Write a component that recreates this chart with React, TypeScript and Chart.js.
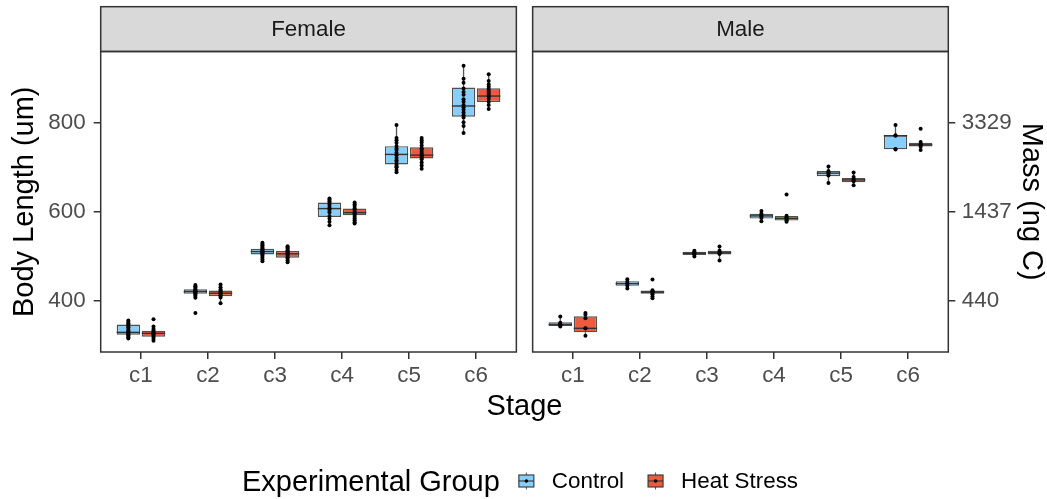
import React, { useEffect, useRef } from 'react';
import { Chart, registerables } from 'chart.js';

Chart.register(...registerables);

// ---------- data ----------
const STAGES = ['c1', 'c2', 'c3', 'c4', 'c5', 'c6'];
const PANELS = ['Female', 'Male'];
const GROUPS = ['Control', 'Heat Stress'];
const Y_TICKS = [400, 600, 800];
const MASS_TICK_LABELS = ['440', '1437', '3329'];

// box stats per stage: [lower whisker, q1, median, q3, upper whisker]
const FEMALE_CONTROL_BOX = [
  [315, 323.4, 328.6, 346, 355],
  [406, 415, 420, 425.4, 435],
  [488, 503.5, 510, 516.3, 530],
  [569, 587.5, 606.4, 620, 629],
  [688, 705.4, 728, 746.6, 794],
  [776, 812.6, 836.7, 878, 927],
];
const FEMALE_HEAT_BOX = [
  [310, 319, 326.4, 332.4, 342],
  [394, 409.7, 416.4, 422.5, 436],
  [486, 496, 505, 511, 522],
  [573, 591.3, 597.4, 606.4, 620],
  [696, 719, 726.4, 744, 765],
  [830, 845.7, 859, 876.5, 908],
];
const MALE_CONTROL_BOX = [
  [342, 343, 346, 351, 364],
  [427, 433, 438, 443.4, 448],
  [499, 502, 506, 509.6, 511.5],
  [578, 584, 590, 595, 601],
  [664, 679, 686, 691, 701],
  [739, 739.5, 770, 771, 794],
];
const MALE_HEAT_BOX = [
  [321, 328.6, 337.6, 364.6, 372],
  [405, 415, 418.7, 422.5, 423],
  [490, 503.5, 507.3, 511.8, 521.5],
  [577, 579.4, 584.5, 590, 590.6],
  [658.8, 665.6, 670.8, 675.3, 687.4],
  [737.7, 746, 749.6, 754, 755.7],
];

// individual observations per stage
const FEMALE_CONTROL_POINTS = [
  [355, 352, 349, 346, 343, 340, 336, 333, 330, 328, 326, 324, 322, 319, 317, 315],
  [435, 432, 429, 426, 424, 422, 421, 420, 419, 417, 415, 413, 410, 406, 372],
  [530, 527, 524, 521, 518, 516, 514, 512, 510, 509, 507, 505, 503, 500, 496, 492, 488],
  [629, 626, 623, 619, 615, 610, 606, 603, 598, 590, 584, 577, 569],
  [794, 765, 760, 754, 747, 741, 738, 732, 726, 720, 715, 711, 705, 701, 699, 693, 688],
  [927, 898, 889, 876, 868, 862, 852, 846, 839, 834, 828, 822, 816, 811, 800, 792, 776],
];
const FEMALE_HEAT_POINTS = [
  [358, 342, 336, 333, 329, 326, 324, 321, 318, 314, 310],
  [436, 430, 425, 422, 419, 417, 415, 412, 410, 407, 394],
  [522, 519, 516, 513, 511, 509, 507, 505, 503, 500, 497, 494, 490, 486],
  [620, 616, 612, 607, 603, 599, 596, 592, 588, 584, 580, 576, 573],
  [765, 760, 755, 748, 742, 739, 734, 730, 726, 723, 720, 717, 710, 703, 696],
  [908, 893, 885, 880, 875, 870, 866, 862, 858, 853, 846, 839, 830],
];
const MALE_CONTROL_POINTS = [
  [364, 350, 347, 346, 344, 342],
  [448, 442, 438, 434, 427],
  [511.5, 509, 507, 505, 503, 499],
  [601, 595, 592, 589, 585, 578],
  [701, 690.5, 688, 684, 680.7, 664],
  [794, 771, 770, 740, 739],
];
const MALE_HEAT_POINTS = [
  [372, 368, 360, 338, 337, 321],
  [447, 423, 421, 419, 417, 414, 409, 405],
  [521.5, 512, 508, 506, 504.5, 490],
  [638, 590.6, 587, 585, 583, 580, 577],
  [687.4, 677.4, 672.6, 670, 668, 658.8],
  [785.6, 755.7, 751, 750, 745, 737.7],
];

// ---------- layout & style constants ----------
const W = 1047;
const H = 499;
const FAMILY = '"Liberation Sans", Arial, Helvetica, sans-serif';
const SMALL = 22.4;
const BIG = 29;
const PANEL_GAP = 0.243; // gap between facets, in category units
const PANEL_EXPAND = 0.6;
const PANEL_SPAN = STAGES.length - 1 + 2 * PANEL_EXPAND;
const X_MIN = 1 - PANEL_EXPAND;
const X_MAX = X_MIN + 2 * PANEL_SPAN + PANEL_GAP;
const Y_MIN = 284.5;
const Y_MAX = 959;
const DODGE = 0.75 / 4;
const STRIP_TOP = 6.7;
const CONTROL_FILL = '#87CEFA';
const HEAT_FILL = '#EE5A3E';
const LINE_DARK = '#333333';

const catPos = (panel: number, i: number) => 1 + i + panel * (PANEL_SPAN + PANEL_GAP);
const panelStart = (panel: number) => X_MIN + panel * (PANEL_SPAN + PANEL_GAP);

const X_TICK_POSITIONS = PANELS.flatMap((_, p) => STAGES.map((_, i) => catPos(p, i)));

function boxData(perPanel: number[][][]) {
  return perPanel.flatMap((panelBoxes, p) =>
    panelBoxes.map((b, i) => ({ x: catPos(p, i), y: [b[1], b[3]] }))
  );
}
function boxStats(perPanel: number[][][]) {
  return perPanel.flatMap((panelBoxes) => panelBoxes);
}
function pointData(perPanel: number[][][], offset: number) {
  return perPanel.flatMap((panelPts, p) =>
    panelPts.flatMap((vals, i) => vals.map((v) => ({ x: catPos(p, i) + offset, y: v })))
  );
}

const facetPlugin = {
  id: 'facetPlugin',
  beforeDraw(chart: any) {
    const { ctx, chartArea, scales } = chart;
    ctx.save();
    ctx.fillStyle = '#ffffff';
    ctx.fillRect(0, 0, W, H);
    PANELS.forEach((name, p) => {
      const x0 = scales.x.getPixelForValue(panelStart(p));
      const x1 = scales.x.getPixelForValue(panelStart(p) + PANEL_SPAN);
      const h = chartArea.top - STRIP_TOP;
      ctx.fillStyle = '#D9D9D9';
      ctx.fillRect(x0, STRIP_TOP, x1 - x0, h);
      ctx.lineWidth = 1.5;
      ctx.strokeStyle = LINE_DARK;
      ctx.strokeRect(x0, STRIP_TOP, x1 - x0, h);
      ctx.fillStyle = '#1A1A1A';
      ctx.font = `${SMALL}px ${FAMILY}`;
      ctx.textAlign = 'center';
      ctx.textBaseline = 'middle';
      ctx.fillText(name, (x0 + x1) / 2, STRIP_TOP + h / 2 + 1);
    });
    ctx.restore();
  },
  beforeDatasetsDraw(chart: any) {
    const { ctx, scales } = chart;
    ctx.save();
    ctx.strokeStyle = '#555555';
    ctx.lineWidth = 1.3;
    chart.data.datasets.forEach((ds: any, di: number) => {
      if (!ds.boxStats) return;
      const meta = chart.getDatasetMeta(di);
      meta.data.forEach((el: any, i: number) => {
        const s = ds.boxStats[i];
        const x = el.x;
        ctx.beginPath();
        ctx.moveTo(x, scales.y.getPixelForValue(s[4]));
        ctx.lineTo(x, scales.y.getPixelForValue(s[3]));
        ctx.moveTo(x, scales.y.getPixelForValue(s[1]));
        ctx.lineTo(x, scales.y.getPixelForValue(s[0]));
        ctx.stroke();
      });
    });
    ctx.restore();
  },
  afterDatasetDraw(chart: any, args: any) {
    const ds = chart.data.datasets[args.index];
    if (!ds.boxStats) return;
    const { ctx, scales } = chart;
    ctx.save();
    ctx.strokeStyle = LINE_DARK;
    ctx.lineWidth = 1.4;
    args.meta.data.forEach((el: any, i: number) => {
      const y = scales.y.getPixelForValue(ds.boxStats[i][2]);
      ctx.beginPath();
      ctx.moveTo(el.x - el.width / 2, y);
      ctx.lineTo(el.x + el.width / 2, y);
      ctx.stroke();
    });
    ctx.restore();
  },
  afterDraw(chart: any) {
    const { ctx, chartArea, scales } = chart;
    ctx.save();
    ctx.lineWidth = 1.5;
    ctx.strokeStyle = LINE_DARK;
    PANELS.forEach((_, p) => {
      const x0 = scales.x.getPixelForValue(panelStart(p));
      const x1 = scales.x.getPixelForValue(panelStart(p) + PANEL_SPAN);
      ctx.strokeRect(x0, chartArea.top, x1 - x0, chartArea.bottom - chartArea.top);
    });

    // legend
    const cy = 481;
    const title = 'Experimental Group';
    ctx.font = `${BIG}px ${FAMILY}`;
    const tw = ctx.measureText(title).width;
    ctx.font = `${SMALL}px ${FAMILY}`;
    const lw = GROUPS.map((g) => ctx.measureText(g).width);
    const KEY = 17;
    const GAP_T = 18;
    const GAP_KL = 17;
    const GAP_ITEM = 23;
    const total = tw + GAP_T + KEY + GAP_KL + lw[0] + GAP_ITEM + KEY + GAP_KL + lw[1];
    let x = 520 - total / 2;
    ctx.fillStyle = '#000';
    ctx.textBaseline = 'middle';
    ctx.textAlign = 'left';
    ctx.font = `${BIG}px ${FAMILY}`;
    ctx.fillText(title, x, cy + 1.5);
    x += tw + GAP_T;
    const fills = [CONTROL_FILL, HEAT_FILL];
    GROUPS.forEach((g, gi) => {
      const kx = x;
      const ky = cy - KEY / 2;
      // whisker
      ctx.strokeStyle = '#555555';
      ctx.lineWidth = 1;
      ctx.beginPath();
      ctx.moveTo(kx + KEY / 2, ky);
      ctx.lineTo(kx + KEY / 2, ky + KEY);
      ctx.stroke();
      // box
      const bx = kx + 1;
      const bw = KEY - 2;
      const by = cy - 6;
      const bh = 12;
      ctx.fillStyle = fills[gi];
      ctx.fillRect(bx, by, bw, bh);
      ctx.strokeStyle = LINE_DARK;
      ctx.lineWidth = 1.1;
      ctx.strokeRect(bx, by, bw, bh);
      ctx.beginPath();
      ctx.moveTo(bx, cy);
      ctx.lineTo(bx + bw, cy);
      ctx.stroke();
      ctx.fillStyle = '#000';
      ctx.beginPath();
      ctx.arc(kx + KEY / 2, cy, 1.8, 0, Math.PI * 2);
      ctx.fill();
      x += KEY + GAP_KL;
      ctx.font = `${SMALL}px ${FAMILY}`;
      ctx.fillStyle = '#000';
      ctx.fillText(g, x, cy + 1);
      x += lw[gi] + GAP_ITEM;
    });
    ctx.restore();
  },
};

export default function App() {
  const ref = useRef<HTMLCanvasElement>(null);

  useEffect(() => {
    const canvas = ref.current;
    if (!canvas) return;

    const tickFont = { family: FAMILY, size: SMALL };
    const titleFont = { family: FAMILY, size: BIG };
    const tickGrid = {
      display: true,
      drawOnChartArea: false,
      drawTicks: true,
      tickLength: 7,
      color: LINE_DARK,
      lineWidth: 1.5,
      offset: false,
    };

    const chart = new Chart(canvas, {
      type: 'bar',
      data: {
        datasets: [
          {
            type: 'scatter',
            label: 'Control points',
            data: pointData([FEMALE_CONTROL_POINTS, MALE_CONTROL_POINTS], -DODGE),
            backgroundColor: '#000',
            borderColor: '#000',
            pointRadius: 2,
            pointBorderWidth: 0,
            order: 1,
          },
          {
            type: 'scatter',
            label: 'Heat Stress points',
            data: pointData([FEMALE_HEAT_POINTS, MALE_HEAT_POINTS], DODGE),
            backgroundColor: '#000',
            borderColor: '#000',
            pointRadius: 2,
            pointBorderWidth: 0,
            order: 1,
          },
          {
            type: 'bar',
            label: GROUPS[0],
            data: boxData([FEMALE_CONTROL_BOX, MALE_CONTROL_BOX]),
            boxStats: boxStats([FEMALE_CONTROL_BOX, MALE_CONTROL_BOX]),
            backgroundColor: CONTROL_FILL,
            borderColor: 'rgba(51,51,51,0.85)',
            borderWidth: 1.4,
            borderSkipped: false,
            categoryPercentage: 0.75,
            barPercentage: 0.93,
            order: 2,
          } as any,
          {
            type: 'bar',
            label: GROUPS[1],
            data: boxData([FEMALE_HEAT_BOX, MALE_HEAT_BOX]),
            boxStats: boxStats([FEMALE_HEAT_BOX, MALE_HEAT_BOX]),
            backgroundColor: HEAT_FILL,
            borderColor: 'rgba(51,51,51,0.85)',
            borderWidth: 1.4,
            borderSkipped: false,
            categoryPercentage: 0.75,
            barPercentage: 0.93,
            order: 2,
          } as any,
        ],
      },
      options: {
        animation: false,
        responsive: false,
        devicePixelRatio: 1,
        events: [],
        layout: { padding: { top: 51.5, bottom: 74.5, left: 0, right: 0 } },
        plugins: {
          legend: { display: false },
          tooltip: { enabled: false },
          title: { display: false },
        },
        scales: {
          x: {
            type: 'linear',
            display: true,
            min: X_MIN,
            max: X_MAX,
            offset: false,
            grid: tickGrid,
            border: { display: false },
            ticks: {
              autoSkip: false,
              maxRotation: 0,
              minRotation: 0,
              padding: 3,
              color: '#4D4D4D',
              font: tickFont,
              callback: (_v: any, i: number) => STAGES[i % STAGES.length],
            },
            afterBuildTicks: (s: any) => {
              s.ticks = X_TICK_POSITIONS.map((v) => ({ value: v }));
            },
            afterFit: (s: any) => {
              s.height = 72.5;
            },
            title: {
              display: true,
              text: 'Stage',
              color: '#000',
              font: titleFont,
              padding: { top: 0, bottom: 0 },
            },
          },
          y: {
            type: 'linear',
            display: true,
            position: 'left',
            min: Y_MIN,
            max: Y_MAX,
            grid: tickGrid,
            border: { display: false },
            ticks: { padding: 8, color: '#4D4D4D', font: tickFont },
            afterBuildTicks: (s: any) => {
              s.ticks = Y_TICKS.map((v) => ({ value: v }));
            },
            afterFit: (s: any) => {
              s.width = 100.7;
            },
            title: {
              display: true,
              text: 'Body Length (um)',
              color: '#000',
              font: titleFont,
              padding: { top: 7.5, bottom: 0 },
            },
          },
          y2: {
            type: 'linear',
            display: true,
            position: 'right',
            min: Y_MIN,
            max: Y_MAX,
            grid: tickGrid,
            border: { display: false },
            ticks: {
              padding: 6.5,
              color: '#4D4D4D',
              font: tickFont,
              callback: (_v: any, i: number) => MASS_TICK_LABELS[i],
            },
            afterBuildTicks: (s: any) => {
              s.ticks = Y_TICKS.map((v) => ({ value: v }));
            },
            afterFit: (s: any) => {
              s.width = W - 948.3;
            },
            title: {
              display: true,
              text: 'Mass (ng C)',
              color: '#000',
              font: titleFont,
              padding: { top: -1.5, bottom: 0 },
            },
          },
        },
      } as any,
      plugins: [facetPlugin],
    });

    return () => chart.destroy();
  }, []);

  return (
    <div style={{ position: 'absolute', left: 0, top: 0, width: W, height: H, background: '#fff' }}>
      <canvas ref={ref} width={W} height={H} style={{ display: 'block' }} />
    </div>
  );
}
